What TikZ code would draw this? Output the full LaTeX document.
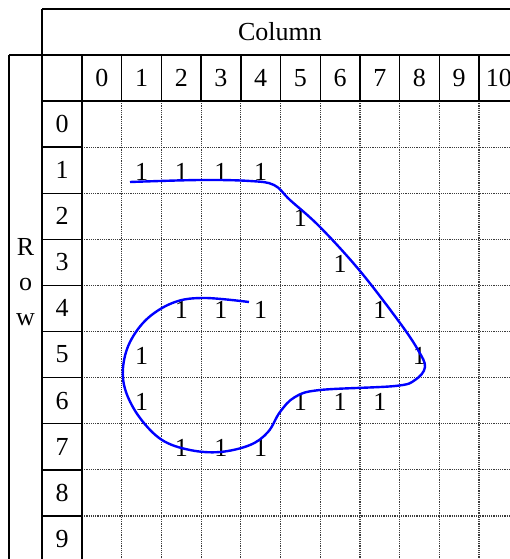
\documentclass[tikz,border=0pt]{standalone}
\usepackage{fontspec}
\setmainfont{Liberation Serif}
\usetikzlibrary{positioning}
\definecolor{curveblue}{HTML}{0000FF}
\definecolor{gridgray}{HTML}{3C3C3C}

\begin{document}
\begin{tikzpicture}[x=1pt,y=-1pt,font=\fontsize{26}{28}\selectfont,
    solidline/.style={line width=1.4pt,black},
    gridline/.style={line width=1.2pt,gridgray,densely dotted},
    lbl/.style={inner sep=0pt,anchor=center},
    rowletter/.style={inner sep=0pt,anchor=base}]
    \useasboundingbox (0,0) rectangle (509,559);
    % garis titik (isi tabel)
    \foreach \k in {1,...,11} \draw[gridline] (82+39.7*\k,101) -- (82+39.7*\k,570);
    \foreach \j in {1,...,10} \draw[gridline] (82,101+46.1*\j) -- (530,101+46.1*\j);
    % garis tegas (kepala tabel)
    \draw[solidline] (42,9) -- (530,9);
    \draw[solidline] (9,55) -- (530,55);
    \draw[solidline] (42,101) -- (530,101);
    \draw[solidline] (9,55) -- (9,570);
    \draw[solidline] (42,9) -- (42,570);
    \draw[solidline] (82,55) -- (82,570);
    \foreach \k in {1,...,11} \draw[solidline] (82+39.7*\k,55) -- (82+39.7*\k,101);
    \foreach \j in {1,...,10} \draw[solidline] (42,101+46.1*\j) -- (82,101+46.1*\j);
    % judul
    \node[lbl] (column) at (280,32) {Column};
    \node[rowletter] (rowR) at (25.5,255) {R};
    \node[rowletter] (rowO) at (25.5,290) {o};
    \node[rowletter] (rowW) at (25.5,325) {w};
    % nomor kolom dan baris
    \foreach \k in {0,...,10} \node[lbl] (c\k) at (82+39.7*\k+19.85,78) {\k};
    \foreach \j in {0,...,9} \node[lbl] (r\j) at (62,101+46.1*\j+23) {\j};
    % angka 1
    \foreach \r/\c in {1/1,1/2,1/3,1/4,2/5,3/6,4/2,4/3,4/4,4/7,5/1,5/8,6/1,6/5,6/6,6/7,7/2,7/3,7/4}
      \node[lbl] (one-\r-\c) at (82+39.7*\c+19.85,101+46.1*\r+24.5) {1};
    % kurva
    \draw[curveblue, line width=2.4pt] plot[smooth, tension=0.6] coordinates {
      (130,182) (200,180) (250,181) (274,185) (290,200) (320,227) (360,271)
      (400,323) (418,350) (425,367) (415,380) (395,386) (320,390) (295,397)
      (280,412) (268,432) (250,445) (220,452) (190,450) (162,440) (140,418)
      (126,392) (123,368) (130,342) (148,318) (175,302) (205,298) (249,302)};
\end{tikzpicture}
\end{document}
